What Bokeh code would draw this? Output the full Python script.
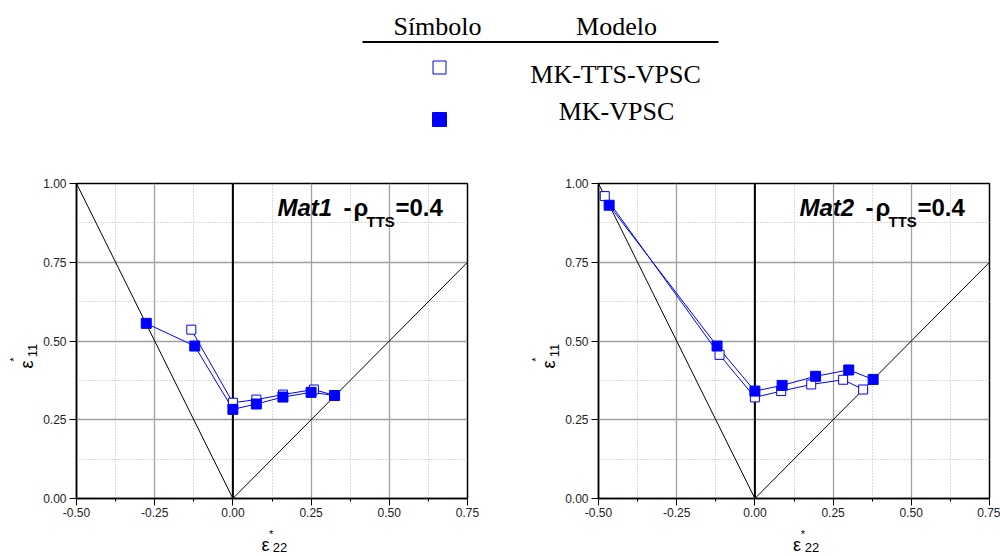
import math
from bokeh.plotting import figure
from bokeh.layouts import column, row
from bokeh.models import Range1d, FixedTicker, NumeralTickFormatter, Label
from bokeh.embed import file_html
from bokeh.resources import INLINE

# ---------------- data ----------------
x_ticks = [-0.5, -0.25, 0.0, 0.25, 0.5, 0.75]
x_minor = [-0.375, -0.125, 0.125, 0.375, 0.625]
y_ticks = [0.0, 0.25, 0.5, 0.75, 1.0]
y_minor = [0.125, 0.375, 0.625, 0.875]

legend_header = ["Símbolo", "Modelo"]
series_names = ["MK-TTS-VPSC", "MK-VPSC"]

# Mat1
mat1_tts_x = [-0.133, 0.0, 0.075, 0.160, 0.259, 0.325]
mat1_tts_y = [0.536, 0.304, 0.314, 0.330, 0.346, 0.327]
mat1_vpsc_x = [-0.277, -0.122, 0.0, 0.075, 0.160, 0.250, 0.325]
mat1_vpsc_y = [0.556, 0.484, 0.283, 0.300, 0.322, 0.337, 0.327]

# Mat2
mat2_tts_x = [-0.480, -0.113, 0.0, 0.084, 0.180, 0.282, 0.346]
mat2_tts_y = [0.960, 0.456, 0.321, 0.341, 0.362, 0.377, 0.346]
mat2_vpsc_x = [-0.466, -0.121, 0.0, 0.087, 0.194, 0.300, 0.378]
mat2_vpsc_y = [0.931, 0.484, 0.341, 0.359, 0.388, 0.408, 0.378]

# reference strain paths
uniax_x = [-0.5, 0.0]
uniax_y = [1.0, 0.0]
biax_x = [0.0, 0.75]
biax_y = [0.0, 0.75]
plane_x = [0.0, 0.0]
plane_y = [0.0, 1.0]

SANS = "Liberation Sans"
SERIF = "Liberation Serif"
BLUE = "#0000ff"


def lab(p, x, y, text, size, font=SANS, style="normal", align="left",
        baseline="alphabetic", angle=0.0, color="black", units="screen"):
    p.add_layout(Label(x=x, y=y, x_units=units, y_units=units, text=text,
                       text_font=font, text_font_size=f"{size}px",
                       text_font_style=style, text_align=align,
                       text_baseline=baseline, angle=angle,
                       text_color=color))


def blank(width, height, x0, x1, ytop, ybot):
    f = figure(width=width, height=height, x_range=Range1d(x0, x1),
               y_range=Range1d(ybot, ytop), output_backend="svg",
               toolbar_location=None, x_axis_type=None, y_axis_type=None,
               min_border=0, min_border_left=0, min_border_right=0,
               min_border_top=0, min_border_bottom=0)
    f.outline_line_color = None
    return f


def panel(mat, tts_x, tts_y, vpsc_x, vpsc_y, width, bl, br):
    p = figure(width=width, height=376, x_range=Range1d(-0.5, 0.75),
               y_range=Range1d(0.0, 1.0), output_backend="svg",
               toolbar_location=None, min_border_left=bl,
               min_border_right=br, min_border_top=33, min_border_bottom=28,
               background_fill_color="white", border_fill_color="white")
    p.outline_line_color = "black"
    p.outline_line_width = 1.5

    xt = FixedTicker(ticks=x_ticks, minor_ticks=x_minor)
    yt = FixedTicker(ticks=y_ticks, minor_ticks=y_minor)
    p.xaxis.ticker = xt
    p.yaxis.ticker = yt
    p.xgrid.ticker = xt
    p.ygrid.ticker = yt
    for g in (p.xgrid, p.ygrid):
        g.grid_line_color = "#a0a0a0"
        g.grid_line_width = 1.3
        g.minor_grid_line_color = "#b4b4b4"
        g.minor_grid_line_dash = "1 2"
        g.minor_grid_line_width = 1
    for ax in (p.xaxis, p.yaxis):
        ax.formatter = NumeralTickFormatter(format="0.00")
        ax.major_label_text_font = SANS
        ax.major_label_text_font_size = "12px"
        ax.major_label_text_color = "#222222"
        ax.axis_line_color = "black"
        ax.axis_line_width = 1.5
        ax.major_tick_line_color = "black"
        ax.minor_tick_line_color = "black"
        ax.major_tick_out = 7
        ax.major_tick_in = 0
        ax.minor_tick_in = 0
    p.xaxis.minor_tick_out = 3
    p.yaxis.minor_tick_out = 0
    p.xaxis.major_label_standoff = 2
    p.yaxis.major_label_standoff = 3

    p.line(uniax_x, uniax_y, line_color="black", line_width=1)
    p.line(biax_x, biax_y, line_color="black", line_width=1)
    p.line(plane_x, plane_y, line_color="black", line_width=2)

    p.line(tts_x, tts_y, line_color=BLUE, line_width=1)
    p.line(vpsc_x, vpsc_y, line_color=BLUE, line_width=1)
    p.scatter(tts_x, tts_y, marker="square", size=9, fill_color="white",
              line_color=BLUE, line_width=1)
    p.scatter(vpsc_x, vpsc_y, marker="square", size=10, fill_color=BLUE,
              line_color=BLUE, line_width=1)

    # in-plot title  "Matn - ρ_TTS=0.4"
    lab(p, 201, 291, mat, 24, style="bold italic")
    lab(p, 271, 291, "-", 24, style="bold", align="center")
    lab(p, 277, 291, "ρ", 24, style="bold")
    lab(p, 290, 277, "TTS", 15, style="bold")
    lab(p, 319, 291, "=0.4", 24, style="bold")
    return p


# ---------------- legend header ----------------
top = blank(1000, 150, 0, 1000, 0, 150)
lab(top, 437, 35 - 9, legend_header[0], 26, font=SERIF, align="center",
    units="data")
lab(top, 616, 35 - 9, legend_header[1], 26, font=SERIF, align="center",
    units="data")
top.line([362, 718], [41.5, 41.5], line_color="black", line_width=2)
top.scatter([439], [67], marker="square", size=13, fill_color="white",
            line_color=BLUE, line_width=1)
top.scatter([439], [119], marker="square", size=14, fill_color=BLUE,
            line_color=BLUE, line_width=1)
lab(top, 615, 83 - 9, series_names[0], 26, font=SERIF, align="center",
    units="data")
lab(top, 616, 120 - 9, series_names[1], 26, font=SERIF, align="center",
    units="data")

# ---------------- panels ----------------
left = panel("Mat1", mat1_tts_x, mat1_tts_y, mat1_vpsc_x, mat1_vpsc_y,
             460, 36, 33)
right = panel("Mat2", mat2_tts_x, mat2_tts_y, mat2_vpsc_x, mat2_vpsc_y,
              438, 36, 11)

# y-axis label figures (page coordinates)
yl_left = blank(40, 406, 0, 40, 150, 556)
yl_right = blank(62, 406, 500, 562, 150, 556)
for f, fx in ((yl_left, 76), (yl_right, 598)):
    lab(f, fx - 49.5, 364, "ε", 18, align="center", baseline="middle",
        angle=math.pi / 2, units="data")
    lab(f, fx - 63, 359, "*", 11, align="center", baseline="middle",
        angle=math.pi / 2, units="data")
    lab(f, fx - 44, 350, "11", 13, align="center", baseline="middle",
        angle=math.pi / 2, units="data")

# x-axis label figures (page coordinates)
xl_left = blank(460, 30, 40, 500, 526, 556)
xl_right = blank(438, 30, 562, 1000, 526, 556)
for f, fx in ((xl_left, 76), (xl_right, 598)):
    lab(f, fx + 186.5, 544, "ε", 18, align="center", baseline="middle",
        units="data")
    lab(f, fx + 193, 533, "*", 11, align="center", baseline="middle",
        units="data")
    lab(f, fx + 195, 547, "22", 13, align="left", baseline="middle",
        units="data")

layout = column(
    top,
    row(yl_left, column(left, xl_left, spacing=0),
        yl_right, column(right, xl_right, spacing=0), spacing=0),
    spacing=0,
)
open("out.html", "w").write(file_html(layout, INLINE))
